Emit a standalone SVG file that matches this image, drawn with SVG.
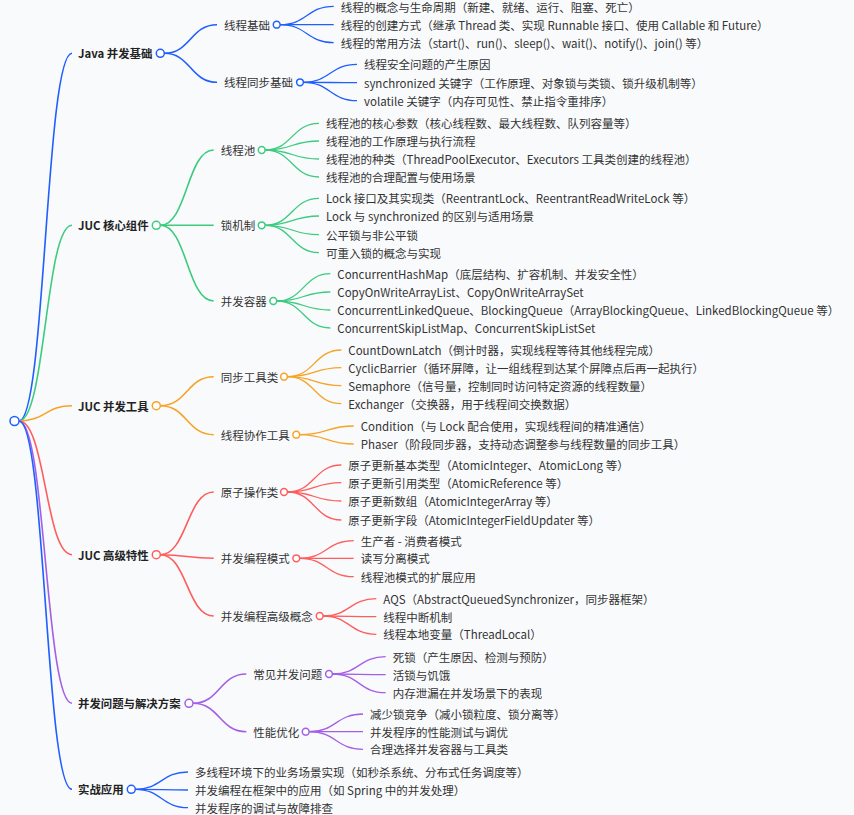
<svg xmlns="http://www.w3.org/2000/svg" width="854" height="815" viewBox="0 0 854 815">
<style>
.t{font-family:"Noto Sans CJK SC","Noto Sans",sans-serif;font-size:11.5px;fill:#333;dominant-baseline:central}
.h{font-weight:bold;fill:#222;font-size:11.4px}
path{fill:none;stroke-width:1.3}
.l1{stroke-width:1.6}
circle{fill:#fff;stroke-width:1.5}
.B{stroke:#1f5eff}.G{stroke:#3ccb7f}.O{stroke:#f7a326}.R{stroke:#ff5d5d}.P{stroke:#a45fe6}
</style>
<rect width="854" height="815" fill="#f9fafc"/>
<g id="connectors">
<path class="l1 B" d="M19 421C45.5 421 45.5 53.3 72 53.3"/>
<path class="l1 G" d="M19 421C45.5 421 45.5 225.3 72 225.3"/>
<path class="l1 O" d="M19 421C45.5 421 45.5 405.7 72 405.7"/>
<path class="l1 R" d="M19 421C45.5 421 45.5 554.7 72 554.7"/>
<path class="l1 P" d="M19 421C45.5 421 45.5 703.3 72 703.3"/>
<path class="l1 B" d="M19 421C45.5 421 45.5 789.3 72 789.3"/>
<path class="l1 B" d="M164.3 53.3C190.6 53.3 190.6 24.7 217 24.7"/>
<path class="l1 B" d="M164.3 53.3C190.6 53.3 190.6 82.3 217 82.3"/>
<path class="l1 G" d="M160.3 225.3C187 225.3 187 150 213.7 150"/>
<path class="l1 G" d="M160.3 225.3C187 225.3 187 225.3 213.7 225.3"/>
<path class="l1 G" d="M160.3 225.3C187 225.3 187 301 213.7 301"/>
<path class="l1 O" d="M160.3 405.7C187 405.7 187 376.7 213.7 376.7"/>
<path class="l1 O" d="M160.3 405.7C187 405.7 187 434.7 213.7 434.7"/>
<path class="l1 R" d="M160.3 554.7C187 554.7 187 492 213.7 492"/>
<path class="l1 R" d="M160.3 554.7C187 554.7 187 558.3 213.7 558.3"/>
<path class="l1 R" d="M160.3 554.7C187 554.7 187 616 213.7 616"/>
<path class="l1 P" d="M193 703.3C219.6 703.3 219.6 674 246.3 674"/>
<path class="l1 P" d="M193 703.3C219.6 703.3 219.6 731.7 246.3 731.7"/>
<path class="B" d="M135.3 789.3C161.6 789.3 161.6 772 188 772"/>
<path class="B" d="M135.3 789.3C161.6 789.3 161.6 790 188 790"/>
<path class="B" d="M135.3 789.3C161.6 789.3 161.6 807.7 188 807.7"/>
<path class="B" d="M280.2 24.7C307 24.7 307 6.3 333.7 6.3"/>
<path class="B" d="M280.2 24.7C307 24.7 307 24.7 333.7 24.7"/>
<path class="B" d="M280.2 24.7C307 24.7 307 42.7 333.7 42.7"/>
<path class="B" d="M303.5 82.3C330.2 82.3 330.2 64.3 357 64.3"/>
<path class="B" d="M303.5 82.3C330.2 82.3 330.2 82.7 357 82.7"/>
<path class="B" d="M303.5 82.3C330.2 82.3 330.2 100.7 357 100.7"/>
<path class="G" d="M265.2 150C292.1 150 292.1 123.3 319 123.3"/>
<path class="G" d="M265.2 150C292.1 150 292.1 141 319 141"/>
<path class="G" d="M265.2 150C292.1 150 292.1 159 319 159"/>
<path class="G" d="M265.2 150C292.1 150 292.1 177 319 177"/>
<path class="G" d="M265.2 225.3C292.1 225.3 292.1 198.3 319 198.3"/>
<path class="G" d="M265.2 225.3C292.1 225.3 292.1 216 319 216"/>
<path class="G" d="M265.2 225.3C292.1 225.3 292.1 234.7 319 234.7"/>
<path class="G" d="M265.2 225.3C292.1 225.3 292.1 252.7 319 252.7"/>
<path class="G" d="M276.8 301C303.6 301 303.6 273.7 330.3 273.7"/>
<path class="G" d="M276.8 301C303.6 301 303.6 292 330.3 292"/>
<path class="G" d="M276.8 301C303.6 301 303.6 310 330.3 310"/>
<path class="G" d="M276.8 301C303.6 301 303.6 328 330.3 328"/>
<path class="O" d="M287.5 376.7C314.4 376.7 314.4 350 341.3 350"/>
<path class="O" d="M287.5 376.7C314.4 376.7 314.4 367.7 341.3 367.7"/>
<path class="O" d="M287.5 376.7C314.4 376.7 314.4 385.7 341.3 385.7"/>
<path class="O" d="M287.5 376.7C314.4 376.7 314.4 403.7 341.3 403.7"/>
<path class="O" d="M299.8 434.7C326.7 434.7 326.7 426 353.7 426"/>
<path class="O" d="M299.8 434.7C326.7 434.7 326.7 444 353.7 444"/>
<path class="R" d="M287.5 492C314.4 492 314.4 465 341.3 465"/>
<path class="R" d="M287.5 492C314.4 492 314.4 482.7 341.3 482.7"/>
<path class="R" d="M287.5 492C314.4 492 314.4 501 341.3 501"/>
<path class="R" d="M287.5 492C314.4 492 314.4 520 341.3 520"/>
<path class="R" d="M299.8 558.3C326.7 558.3 326.7 540.7 353.7 540.7"/>
<path class="R" d="M299.8 558.3C326.7 558.3 326.7 558.3 353.7 558.3"/>
<path class="R" d="M299.8 558.3C326.7 558.3 326.7 576.7 353.7 576.7"/>
<path class="R" d="M323.2 616C349.7 616 349.7 598.7 376.3 598.7"/>
<path class="R" d="M323.2 616C349.7 616 349.7 616.7 376.3 616.7"/>
<path class="R" d="M323.2 616C349.7 616 349.7 634.3 376.3 634.3"/>
<path class="P" d="M332.5 674C359.1 674 359.1 656.7 385.7 656.7"/>
<path class="P" d="M332.5 674C359.1 674 359.1 674.7 385.7 674.7"/>
<path class="P" d="M332.5 674C359.1 674 359.1 692.7 385.7 692.7"/>
<path class="P" d="M309.2 731.7C336.1 731.7 336.1 714 363 714"/>
<path class="P" d="M309.2 731.7C336.1 731.7 336.1 731.7 363 731.7"/>
<path class="P" d="M309.2 731.7C336.1 731.7 336.1 749.3 363 749.3"/>
</g>
<g id="root"><circle class="B" cx="14.5" cy="421" r="4.5"/></g>
<g id="n-java"><text class="t h" x="78" y="53.3">Java 并发基础</text><circle class="B" cx="160.3" cy="53.3" r="4"/></g>
<g id="n-juc-core"><text class="t h" x="78" y="225.3">JUC 核心组件</text><circle class="G" cx="156.3" cy="225.3" r="4"/></g>
<g id="n-juc-tools"><text class="t h" x="78" y="405.7">JUC 并发工具</text><circle class="O" cx="156.3" cy="405.7" r="4"/></g>
<g id="n-juc-adv"><text class="t h" x="78" y="554.7">JUC 高级特性</text><circle class="R" cx="156.3" cy="554.7" r="4"/></g>
<g id="n-problems"><text class="t h" x="78" y="703.3">并发问题与解决方案</text><circle class="P" cx="189" cy="703.3" r="4"/></g>
<g id="n-practice"><text class="t h" x="78" y="789.3">实战应用</text><circle class="B" cx="131.3" cy="789.3" r="4"/></g>
<g id="n-thread-basic"><text class="t" x="224" y="24.7">线程基础</text><circle class="B" cx="276.7" cy="24.7" r="3.4"/></g>
<g id="n-thread-sync"><text class="t" x="224" y="82.3">线程同步基础</text><circle class="B" cx="300" cy="82.3" r="3.4"/></g>
<g id="n-pool"><text class="t" x="220.7" y="150">线程池</text><circle class="G" cx="261.7" cy="150" r="3.4"/></g>
<g id="n-lock"><text class="t" x="220.7" y="225.3">锁机制</text><circle class="G" cx="261.7" cy="225.3" r="3.4"/></g>
<g id="n-container"><text class="t" x="220.7" y="301">并发容器</text><circle class="G" cx="273.3" cy="301" r="3.4"/></g>
<g id="n-synctools"><text class="t" x="220.7" y="376.7">同步工具类</text><circle class="O" cx="284" cy="376.7" r="3.4"/></g>
<g id="n-cooptools"><text class="t" x="220.7" y="434.7">线程协作工具</text><circle class="O" cx="296.3" cy="434.7" r="3.4"/></g>
<g id="n-atomic"><text class="t" x="220.7" y="492">原子操作类</text><circle class="R" cx="284" cy="492" r="3.4"/></g>
<g id="n-pattern"><text class="t" x="220.7" y="558.3">并发编程模式</text><circle class="R" cx="296.3" cy="558.3" r="3.4"/></g>
<g id="n-advconcept"><text class="t" x="220.7" y="616">并发编程高级概念</text><circle class="R" cx="319.7" cy="616" r="3.4"/></g>
<g id="n-common"><text class="t" x="253.3" y="674">常见并发问题</text><circle class="P" cx="329" cy="674" r="3.4"/></g>
<g id="n-perf"><text class="t" x="253.3" y="731.7">性能优化</text><circle class="P" cx="305.7" cy="731.7" r="3.4"/></g>
<g id="leaves-practice">
<text class="t" x="195" y="772">多线程环境下的业务场景实现（如秒杀系统、分布式任务调度等）</text>
<text class="t" x="195" y="790">并发编程在框架中的应用（如 Spring 中的并发处理）</text>
<text class="t" x="195" y="807.7">并发程序的调试与故障排查</text>
</g>
<g id="leaves-thread-basic">
<text class="t" x="340.7" y="6.6">线程的概念与生命周期（新建、就绪、运行、阻塞、死亡）</text>
<text class="t" x="340.7" y="24.7">线程的创建方式（继承 Thread 类、实现 Runnable 接口、使用 Callable 和 Future）</text>
<text class="t" x="340.7" y="42.7">线程的常用方法（start()、run()、sleep()、wait()、notify()、join() 等）</text>
</g>
<g id="leaves-thread-sync">
<text class="t" x="364" y="64.3">线程安全问题的产生原因</text>
<text class="t" x="364" y="82.7">synchronized 关键字（工作原理、对象锁与类锁、锁升级机制等）</text>
<text class="t" x="364" y="100.7">volatile 关键字（内存可见性、禁止指令重排序）</text>
</g>
<g id="leaves-pool">
<text class="t" x="326" y="123.3">线程池的核心参数（核心线程数、最大线程数、队列容量等）</text>
<text class="t" x="326" y="141">线程池的工作原理与执行流程</text>
<text class="t" x="326" y="159">线程池的种类（ThreadPoolExecutor、Executors 工具类创建的线程池）</text>
<text class="t" x="326" y="177">线程池的合理配置与使用场景</text>
</g>
<g id="leaves-lock">
<text class="t" x="326" y="198.3">Lock 接口及其实现类（ReentrantLock、ReentrantReadWriteLock 等）</text>
<text class="t" x="326" y="216">Lock 与 synchronized 的区别与适用场景</text>
<text class="t" x="326" y="234.7">公平锁与非公平锁</text>
<text class="t" x="326" y="252.7">可重入锁的概念与实现</text>
</g>
<g id="leaves-container">
<text class="t" x="337.3" y="273.7">ConcurrentHashMap（底层结构、扩容机制、并发安全性）</text>
<text class="t" x="337.3" y="292">CopyOnWriteArrayList、CopyOnWriteArraySet</text>
<text class="t" x="337.3" y="310">ConcurrentLinkedQueue、BlockingQueue（ArrayBlockingQueue、LinkedBlockingQueue 等）</text>
<text class="t" x="337.3" y="328">ConcurrentSkipListMap、ConcurrentSkipListSet</text>
</g>
<g id="leaves-synctools">
<text class="t" x="348.3" y="350">CountDownLatch（倒计时器，实现线程等待其他线程完成）</text>
<text class="t" x="348.3" y="367.7">CyclicBarrier（循环屏障，让一组线程到达某个屏障点后再一起执行）</text>
<text class="t" x="348.3" y="385.7">Semaphore（信号量，控制同时访问特定资源的线程数量）</text>
<text class="t" x="348.3" y="403.7">Exchanger（交换器，用于线程间交换数据）</text>
</g>
<g id="leaves-cooptools">
<text class="t" x="360.7" y="426">Condition（与 Lock 配合使用，实现线程间的精准通信）</text>
<text class="t" x="360.7" y="444">Phaser（阶段同步器，支持动态调整参与线程数量的同步工具）</text>
</g>
<g id="leaves-atomic">
<text class="t" x="348.3" y="465">原子更新基本类型（AtomicInteger、AtomicLong 等）</text>
<text class="t" x="348.3" y="482.7">原子更新引用类型（AtomicReference 等）</text>
<text class="t" x="348.3" y="501">原子更新数组（AtomicIntegerArray 等）</text>
<text class="t" x="348.3" y="520">原子更新字段（AtomicIntegerFieldUpdater 等）</text>
</g>
<g id="leaves-pattern">
<text class="t" x="360.7" y="540.7">生产者 - 消费者模式</text>
<text class="t" x="360.7" y="558.3">读写分离模式</text>
<text class="t" x="360.7" y="576.7">线程池模式的扩展应用</text>
</g>
<g id="leaves-advconcept">
<text class="t" x="383.3" y="598.7">AQS（AbstractQueuedSynchronizer，同步器框架）</text>
<text class="t" x="383.3" y="616.7">线程中断机制</text>
<text class="t" x="383.3" y="634.3">线程本地变量（ThreadLocal）</text>
</g>
<g id="leaves-common">
<text class="t" x="392.7" y="656.7">死锁（产生原因、检测与预防）</text>
<text class="t" x="392.7" y="674.7">活锁与饥饿</text>
<text class="t" x="392.7" y="692.7">内存泄漏在并发场景下的表现</text>
</g>
<g id="leaves-perf">
<text class="t" x="370" y="714">减少锁竞争（减小锁粒度、锁分离等）</text>
<text class="t" x="370" y="731.7">并发程序的性能测试与调优</text>
<text class="t" x="370" y="749.3">合理选择并发容器与工具类</text>
</g>
</svg>
